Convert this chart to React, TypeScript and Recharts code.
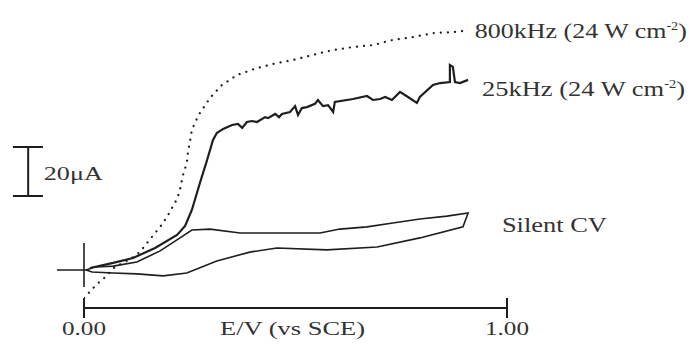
import { LineChart, Line, XAxis, YAxis, ReferenceLine, ReferenceDot } from 'recharts'

// potentials (V vs SCE) and currents (µA)
const potential800 = [
  0.0, 0.031, 0.05, 0.073, 0.097, 0.113, 0.132, 0.149, 0.168, 0.18, 0.196, 0.208, 0.22, 0.227,
  0.234, 0.243, 0.246, 0.251, 0.255, 0.262, 0.274, 0.298, 0.326, 0.362, 0.409, 0.456, 0.494,
  0.541, 0.589, 0.636, 0.683, 0.73, 0.778, 0.825, 0.872, 0.901,
]
const current800 = [
  -11.4, -5.7, -2.9, 1.2, 3.3, 4.9, 7.3, 11.0, 15.1, 17.6, 21.6, 25.3, 29.0, 32.7, 38.8, 43.7,
  48.2, 53.1, 57.1, 60.0, 64.1, 70.2, 75.5, 79.6, 82.4, 84.5, 85.7, 87.8, 89.8, 91.0, 91.8, 93.9,
  95.1, 96.7, 97.1, 97.6,
]

const potential25 = [
  0.014, 0.069, 0.116, 0.168, 0.22, 0.239, 0.255, 0.274, 0.291, 0.305, 0.314, 0.329, 0.35, 0.364,
  0.374, 0.385, 0.397, 0.409, 0.428, 0.435, 0.452, 0.461, 0.468, 0.487, 0.499, 0.506, 0.515,
  0.527, 0.546, 0.553, 0.565, 0.577, 0.589, 0.593, 0.636, 0.669, 0.683, 0.7, 0.712, 0.728, 0.747,
  0.766, 0.787, 0.794, 0.825, 0.842, 0.865, 0.865, 0.872, 0.877, 0.889, 0.908,
]
const current25 = [
  0.8, 2.9, 4.9, 9.0, 14.3, 18.0, 24.5, 35.5, 44.9, 53.1, 55.9, 57.6, 59.2, 59.6, 58.0, 60.4,
  60.8, 60.4, 62.4, 62.0, 63.7, 62.4, 63.7, 64.5, 66.9, 63.3, 66.1, 66.5, 67.8, 69.4, 66.9, 67.3,
  64.5, 68.6, 69.8, 71.0, 69.4, 69.8, 70.6, 69.4, 72.7, 70.6, 68.2, 70.6, 75.5, 76.3, 76.7, 83.7,
  82.9, 76.7, 76.3, 77.6,
]

const potentialSilent = [
  0.005, 0.026, 0.069, 0.125, 0.18, 0.227, 0.255, 0.298, 0.369, 0.456, 0.558, 0.605, 0.669, 0.73,
  0.794, 0.858, 0.908, 0.896, 0.794, 0.693, 0.574, 0.456, 0.392, 0.314, 0.243, 0.187, 0.125,
  0.069, 0.019, 0.005,
]
const currentSilent = [
  0, 1.2, 1.6, 3.3, 7.8, 13.1, 16.3, 16.7, 15.1, 15.1, 15.1, 16.7, 17.6, 19.2, 20.8, 22.0, 23.3,
  17.6, 13.1, 9.4, 8.2, 9.0, 7.3, 3.7, -1.2, -2.4, -1.6, -1.2, -0.8, 0,
]

const xTicks = [0, 1]
const xTickLabels = ['0.00', '1.00']

const toPoints = (es: number[], is: number[]) => es.map((e, k) => ({ e, i: is[k] }))

const ink = '#1e1e1e'
const serif = "'Liberation Serif', 'Times New Roman', serif"

const AxisTick = (props: any) => {
  const { x, y, index } = props
  return (
    <g>
      <line x1={x} x2={x} y1={y - 10} y2={y + 10} stroke={ink} strokeWidth={2} />
      <text
        x={x}
        y={y + 27}
        textAnchor="middle"
        fontFamily={serif}
        fontSize={19}
        fill="#333"
        textLength={44}
        lengthAdjust="spacingAndGlyphs"
      >
        {xTickLabels[index]}
      </text>
    </g>
  )
}

const SeriesLabel = (name: string, width: number) => (p: any) => (
  <text x={p.cx} y={p.cy} fontFamily={serif} fontSize={22} fill="#333" textLength={width} lengthAdjust="spacingAndGlyphs">
    {name} (24 W cm
    <tspan dy={-8} fontSize={12}>-2</tspan>
    <tspan dy={8}>)</tspan>
  </text>
)

export default function App() {
  const s800 = toPoints(potential800, current800)
  const s25 = toPoints(potential25, current25)
  const silent = toPoints(potentialSilent, currentSilent)

  return (
    <div style={{ width: 691, height: 345, background: '#fff' }}>
      <style>{'body{margin:0}'}</style>
      <LineChart width={691} height={345} margin={{ top: 10, right: 184, bottom: 0, left: 84 }}>
        <XAxis
          type="number"
          dataKey="e"
          domain={[0, 1]}
          allowDataOverflow
          ticks={xTicks}
          height={37}
          tickSize={0}
          tickMargin={0}
          tickLine={false}
          axisLine={{ stroke: ink, strokeWidth: 2 }}
          tick={AxisTick}
          label={(p: any) => {
            const vb = p.viewBox
            return (
              <text
                x={vb.x + vb.width / 2 - 3}
                y={vb.y + 27}
                textAnchor="middle"
                fontFamily={serif}
                fontSize={19}
                fill="#333"
                textLength={145}
                lengthAdjust="spacingAndGlyphs"
              >
                E/V (vs SCE)
              </text>
            )
          }}
        />
        <YAxis type="number" dataKey="i" domain={[-15.51, 106.12]} allowDataOverflow hide />

        {/* 20 µA scale bar and origin cross */}
        <ReferenceLine segment={[{ x: -0.132, y: 30.2 }, { x: -0.132, y: 50.2 }]} stroke={ink} strokeWidth={2} ifOverflow="visible" />
        <ReferenceLine segment={[{ x: -0.168, y: 30.2 }, { x: -0.097, y: 30.2 }]} stroke={ink} strokeWidth={2} ifOverflow="visible" />
        <ReferenceLine segment={[{ x: -0.168, y: 50.2 }, { x: -0.097, y: 50.2 }]} stroke={ink} strokeWidth={2} ifOverflow="visible" />
        <ReferenceLine segment={[{ x: -0.064, y: 0 }, { x: 0.012, y: 0 }]} stroke={ink} strokeWidth={1.6} ifOverflow="visible" />
        <ReferenceLine segment={[{ x: 0, y: 11 }, { x: 0, y: -6.9 }]} stroke={ink} strokeWidth={1.6} ifOverflow="visible" />

        <Line
          data={s800}
          dataKey="i"
          type="linear"
          stroke={ink}
          strokeWidth={2.2}
          strokeDasharray="0.1 7"
          strokeLinecap="round"
          dot={false}
          activeDot={false}
          isAnimationActive={false}
        />
        <Line
          data={silent}
          dataKey="i"
          type="linear"
          stroke={ink}
          strokeWidth={1.6}
          dot={false}
          activeDot={false}
          isAnimationActive={false}
        />
        <Line
          data={s25}
          dataKey="i"
          type="linear"
          stroke={ink}
          strokeWidth={2.2}
          dot={false}
          activeDot={false}
          isAnimationActive={false}
        />

        <ReferenceDot
          x={-0.095}
          y={36.7}
          r={0}
          ifOverflow="visible"
          shape={(p: any) => (
            <text x={p.cx} y={p.cy} fontFamily={serif} fontSize={19} fill="#333" textLength={59} lengthAdjust="spacingAndGlyphs">
              20μA
            </text>
          )}
        />
        <ReferenceDot x={0.924} y={94.7} r={0} ifOverflow="visible" shape={SeriesLabel('800kHz', 212)} />
        <ReferenceDot x={0.941} y={71.0} r={0} ifOverflow="visible" shape={SeriesLabel('25kHz', 203)} />
        <ReferenceDot
          x={0.988}
          y={15.5}
          r={0}
          ifOverflow="visible"
          shape={(p: any) => (
            <text x={p.cx} y={p.cy} fontFamily={serif} fontSize={21} fill="#333" textLength={105} lengthAdjust="spacingAndGlyphs">
              Silent CV
            </text>
          )}
        />
      </LineChart>
    </div>
  )
}
